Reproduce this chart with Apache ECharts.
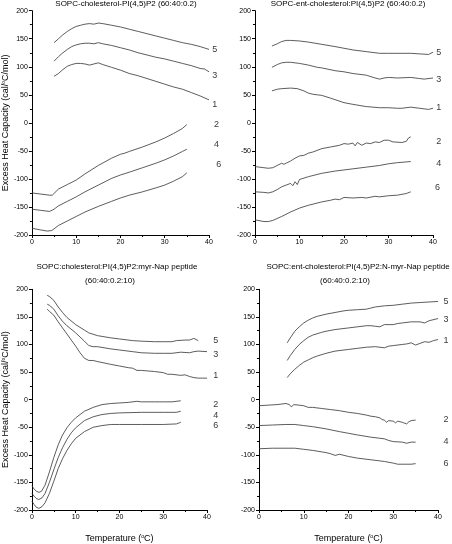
<!DOCTYPE html>
<html><head><meta charset="utf-8">
<script src="https://cdn.jsdelivr.net/npm/echarts@6/dist/echarts.min.js"></script>
<style>html,body{margin:0;padding:0;background:#fff}#c{width:452px;height:544px}</style>
</head><body><div id="c"></div>
<script>
// ---- Data (x = temperature °C, y = excess heat capacity) ----
const xTicks = [0, 10, 20, 30, 40];
const yTicks = [-200, -150, -100, -50, 0, 50, 100, 150, 200];

const titles = [
  ["SOPC-cholesterol-PI(4,5)P2 (60:40:0.2)"],
  ["SOPC-ent-cholesterol:PI(4,5)P2 (60:40:0.2)"],
  ["SOPC:cholesterol:PI(4,5)P2:myr-Nap peptide", "(60:40:0.2:10)"],
  ["SOPC:ent-cholesterol:PI(4,5)P2:N-myr-Nap peptide", "(60:40:0.2:10)"]
];

// Panel 1
const p1c5 = [[5,143],[6,150],[7,157],[8,163],[9,168],[10,172],[11,174],[12,176],[13,177],[14,176],[15,178],[16,177],[18,174],[20,171],[22,167],[24,163],[26,159],[28,155],[30,151],[32,147],[34,143],[36,140],[38,136],[40,131]];
const p1c3 = [[5,110],[6,118],[7,125],[8,131],[9,136],[10,139],[11,141],[12,142],[13,142],[14,141],[15,143],[16,141],[18,138],[20,134],[22,130],[24,125],[26,121],[28,117],[30,114],[32,110],[34,106],[36,102],[38,97],[39,96],[40,91]];
const p1c1 = [[5,83],[6,88],[7,95],[8,101],[9,104],[10,106],[11,106],[12,105],[13,103],[14,105],[15,107],[16,104],[18,99],[20,94],[22,88],[24,84],[26,79],[28,74],[30,69],[32,64],[34,60],[36,54],[38,48],[40,41]];
const p1c2 = [[0,-125],[2,-127],[4,-129],[4.6,-129],[5,-127],[6,-118],[8,-110],[10,-102],[12,-91],[15,-76],[18,-63],[20,-56],[21,-54],[22,-51],[25,-43],[28,-34],[30,-27],[32,-19],[34,-10],[35,-3]];
const p1c4 = [[0,-154],[2,-156],[4,-158],[5,-154],[6,-148],[8,-140],[10,-132],[12,-123],[15,-111],[18,-99],[20,-93],[22,-88],[25,-80],[28,-72],[30,-66],[32,-59],[34,-51],[35,-47]];
const p1c6 = [[0,-188],[2,-191],[3.5,-193],[4.5,-192],[5,-189],[6,-183],[8,-175],[10,-167],[12,-159],[15,-149],[18,-140],[20,-134],[22,-129],[25,-123],[28,-116],[30,-111],[32,-104],[34,-96],[35,-89]];

// Panel 2
const p2c5 = [[3.8,137],[5,141],[6,145],[7,147],[8,147],[10,146],[12,144],[15,140],[18,136],[20,133],[22,130],[25,127],[28,124],[30,124],[33,124],[35,124],[37,123],[39,122],[40,126]];
const p2c3 = [[3.8,99],[5,104],[6,107],[7,108],[8,108],[10,106],[12,103],[14,99],[15,98],[18,93],[20,91],[22,88],[25,85],[27,80],[28,78],[29,80],[30,81],[32,80],[35,81],[37,79],[38,78],[40,80]];
const p2c1 = [[3.8,57],[5,60],[6,61],[8,62],[9.5,61],[11,57],[12,53],[13,51],[14,50],[15,49],[17,44],[20,36],[22,33],[25,29],[28,27],[30,27],[32,26],[33,26],[35,28],[37,26],[38,25],[39,24],[40,26]];
const p2c2 = [[0,-78],[2,-80],[3,-81],[4,-80],[5,-76],[6,-72],[6.5,-74],[7,-72],[8,-68],[9,-63],[10,-59],[11,-58],[12,-54],[13,-52],[15,-46],[17,-43],[19,-40],[20,-37],[21,-38],[22,-36],[22.5,-41],[23,-35],[24,-40],[25,-36],[26,-37],[27,-34],[28,-35],[29,-31],[30,-31],[31,-34],[33,-35],[34,-33],[34.5,-27],[35,-25]];
const p2c4 = [[0,-123],[2,-124],[3,-125],[4,-123],[5,-119],[6,-114],[7,-111],[8,-108],[8.5,-112],[9,-105],[9.5,-110],[10,-101],[12,-96],[15,-90],[18,-86],[20,-84],[22,-82],[25,-79],[28,-76],[30,-73],[32,-71],[35,-69]];
const p2c6 = [[0,-173],[2,-176],[3,-176],[4,-174],[6,-167],[8,-159],[10,-152],[12,-147],[15,-141],[17,-138],[18,-136],[19,-137],[20,-133],[22,-134],[24,-133],[25,-134],[27,-131],[28,-132],[30,-130],[32,-129],[34,-126],[35,-123]];

// Panel 3
const p3c5 = [[3.5,189],[4,187],[5,180],[6,168],[7,158],[8,149],[10,136],[12,126],[13,121],[15,116],[18,112],[20,110],[23,107],[25,106],[28,105],[30,105],[32,105],[33,107],[35,108],[36,108],[37,111],[38,107]];
const p3c3 = [[3.5,173],[4,171],[5,164],[6,152],[7,142],[8,134],[10,121],[12,106],[13,98],[14,96],[15,96],[18,92],[20,90],[23,87],[25,85],[28,84],[30,84],[32,84],[34,86],[36,85],[37,87],[38,88],[40,87]];
const p3c1 = [[3.5,164],[4,160],[5,153],[6,141],[7,130],[8,119],[10,97],[11,85],[12,75],[13,71],[14,71],[15,69],[18,64],[20,61],[22,58],[23,57],[24,53],[25,53],[28,51],[30,49],[31,46],[32,46],[34,44],[35,45],[36,42],[37,40],[38,39],[39,39],[40,39]];
const p3c2 = [[0,-156],[0.5,-162],[1,-166],[1.6,-168],[2.2,-166],[3,-155],[4,-131],[5,-105],[6,-82],[7,-64],[8,-51],[9,-41],[10,-33],[12,-21],[14,-14],[16,-9],[18,-7],[20,-6],[22,-5],[24,-3],[25,-4],[28,-4],[30,-4],[32,-4],[34,-2]];
const p3c4 = [[0,-170],[0.5,-175],[1,-179],[1.6,-181],[2.3,-178],[3,-170],[4,-150],[5,-127],[6,-105],[7,-87],[8,-72],[9,-60],[10,-51],[12,-38],[14,-31],[16,-27],[18,-25],[20,-24],[25,-23],[30,-23],[33,-23],[34,-21]];
const p3c6 = [[0,-184],[0.5,-190],[1,-195],[1.6,-197],[2.3,-194],[3,-187],[4,-170],[5,-148],[6,-125],[7,-107],[8,-92],[9,-80],[10,-70],[12,-58],[14,-50],[16,-47],[18,-45],[20,-45],[25,-45],[30,-45],[33,-44],[34,-41]];

// Panel 4
const p4c5 = [[6.3,103],[7,112],[8,124],[9,132],[10,139],[11,144],[12,148],[13,151],[15,155],[17,158],[19,161],[20,162],[22,163],[24,164],[25,166],[26,168],[28,170],[30,171],[32,173],[34,175],[36,176],[38,177],[40,178]];
const p4c3 = [[6.3,71],[7,80],[8,91],[9,100],[10,107],[11,113],[12,117],[14,122],[15,124],[17,127],[20,130],[22,132],[24,134],[25,134],[26,133],[27,132],[28,136],[30,136],[31,138],[32,139],[34,141],[36,141],[37,139],[38,143],[40,147]];
const p4c1 = [[6.3,40],[7,47],[8,55],[9,62],[10,68],[11,72],[12,76],[13,79],[15,84],[17,88],[20,91],[22,93],[24,95],[26,96],[28,94],[29,97],[30,98],[32,100],[33,101],[34,103],[35,99],[36,102],[37,105],[38,104],[39,107],[40,109]];
const p4c2 = [[0,-11],[2,-10],[4,-9],[6,-7],[6.8,-9],[7.2,-13],[7.8,-9],[9,-10],[10,-11],[11,-14],[12,-14],[14,-16],[16,-18],[18,-20],[20,-23],[22,-25],[24,-28],[25,-30],[26,-31],[27,-33],[27.5,-36],[28,-37],[28.5,-41],[29,-38],[30,-39],[30.5,-42],[31,-39],[32,-41],[33,-44],[33.5,-40],[34,-38],[35,-37]];
const p4c4 = [[0,-47],[3,-46],[6,-45],[8,-45],[10,-47],[12,-49],[15,-53],[18,-58],[20,-61],[22,-64],[25,-68],[27,-70],[28,-71],[29,-74],[30,-76],[32,-77],[33,-79],[34,-77],[35,-77]];
const p4c6 = [[0,-89],[3,-88],[6,-88],[8,-88],[10,-90],[12,-92],[15,-96],[16,-98],[17,-101],[18,-99],[20,-103],[22,-106],[25,-109],[28,-112],[30,-115],[31,-117],[32,-117],[34,-117],[35,-116]];

// Curve number labels: [x, y, text]
const p1labels = [[41.3,130,"5"],[41.3,85,"3"],[41.3,33,"1"],[41.7,-3,"2"],[41.7,-38,"4"],[42.2,-74,"6"]];
const p2labels = [[41.3,125,"5"],[41.3,78,"3"],[41.3,27,"1"],[41.3,-34,"2"],[41.3,-73,"4"],[41.0,-115,"6"]];
const p3labels = [[42,107,"5"],[42,81,"3"],[42,43,"1"],[42,-8,"2"],[42,-28,"4"],[42,-47,"6"]];
const p4labels = [[41.8,178,"5"],[41.8,146,"3"],[41.8,107,"1"],[41.8,-36,"2"],[41.8,-75,"4"],[41.8,-115,"6"]];

const panels = [
  {curves:[p1c5,p1c3,p1c1,p1c2,p1c4,p1c6], labels:p1labels},
  {curves:[p2c5,p2c3,p2c1,p2c2,p2c4,p2c6], labels:p2labels},
  {curves:[p3c5,p3c3,p3c1,p3c2,p3c4,p3c6], labels:p3labels},
  {curves:[p4c5,p4c3,p4c1,p4c2,p4c4,p4c6], labels:p4labels}
];

// ---- Layout ----
const FONT = '"Liberation Sans", Arial, sans-serif';
const grids = [
  {left:30, top:10.7, width:179, height:224.3},
  {left:255, top:10.7, width:178, height:224.3},
  {left:29, top:289.3, width:178, height:223.4},
  {left:259, top:289.3, width:179, height:223.4}
];
const titlePos = [
  [{x:126, y:0}],
  [{x:348, y:0}],
  [{x:117, y:263}, {x:110, y:277}],
  [{x:358, y:263}, {x:345, y:277}]
];
const supRich = {s:{fontSize:5, verticalAlign:'top', lineHeight:6, fontFamily:FONT, color:'#000', padding:[0,0,3,0]}};

const title = [];
titles.forEach((lines, i) => {
  lines.forEach((t, j) => {
    const p = titlePos[i][j];
    title.push({text:t, left:p.x, top:p.y, textAlign:'center',
      padding:0, textStyle:{fontSize:8, fontWeight:'normal', fontFamily:FONT, color:'#000'}});
  });
});

const xAxis = [], yAxis = [], series = [];
grids.forEach((g, i) => {
  const bottom = i >= 2;
  const left = i % 2 === 0;
  xAxis.push({type:'value', gridIndex:i, min:xTicks[0], max:xTicks[xTicks.length-1], interval:10,
    axisLine:{onZero:false, lineStyle:{color:'#000', width:1}},
    axisTick:{show:true, length:3, lineStyle:{color:'#000'}},
    minorTick:{show:true, splitNumber:2, length:2, lineStyle:{color:'#000'}},
    splitLine:{show:false},
    axisLabel:{fontSize:7, margin:4, color:'#000', fontFamily:FONT},
    name: bottom ? 'Temperature ({s|o}C)' : '', nameLocation:'middle', nameGap:24,
    nameTextStyle:{fontSize:9, color:'#000', fontFamily:FONT, rich:supRich}
  });
  yAxis.push({type:'value', gridIndex:i, min:yTicks[0], max:yTicks[yTicks.length-1], interval:50,
    axisLine:{show:true, onZero:false, lineStyle:{color:'#000', width:1}},
    axisTick:{show:true, length:3, lineStyle:{color:'#000'}},
    minorTick:{show:true, splitNumber:2, length:2, lineStyle:{color:'#000'}},
    splitLine:{show:false},
    axisLabel:{fontSize:7, margin:4, color:'#000', fontFamily:FONT},
    name: left ? 'Excess Heat Capacity (cal/{s|o}C/mol)' : '', nameLocation:'middle', nameRotate:90, nameGap:19,
    nameTextStyle:{fontSize:9, color:'#000', fontFamily:FONT, rich:supRich}
  });
  panels[i].curves.forEach(c => {
    series.push({type:'line', xAxisIndex:i, yAxisIndex:i, data:c, showSymbol:false, symbol:'none',
      lineStyle:{color:'#333', width:0.8}, silent:true, animation:false});
  });
  series.push({type:'scatter', xAxisIndex:i, yAxisIndex:i, clip:false, symbolSize:1,
    itemStyle:{color:'rgba(0,0,0,0)'}, animation:false, silent:true,
    data:panels[i].labels.map(l => ({value:[l[0], l[1]], name:l[2]})),
    label:{show:true, position:'inside', formatter:p => p.name, fontSize:9, color:'#000', fontFamily:FONT}
  });
});

const chart = echarts.init(document.getElementById('c'), null, {renderer:'canvas'});
chart.setOption({animation:false, backgroundColor:'#fff', title, grid:grids.map(g => Object.assign({containLabel:false}, g)), xAxis, yAxis, series});
</script></body></html>
